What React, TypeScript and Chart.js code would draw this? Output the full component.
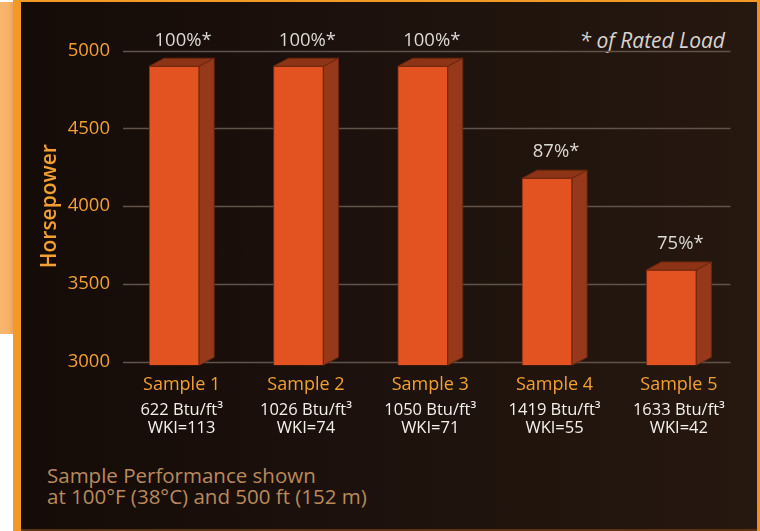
import React, { useEffect, useRef } from "react";
import { Chart, registerables } from "chart.js";

Chart.register(...registerables);

const categories = ["Sample 1", "Sample 2", "Sample 3", "Sample 4", "Sample 5"];
const horsepower = [4900, 4900, 4900, 4180, 3590];
const ratedLoad = ["100%*", "100%*", "100%*", "87%*", "75%*"];
const heatingValues = ["622 Btu/ft³", "1026 Btu/ft³", "1050 Btu/ft³", "1419 Btu/ft³", "1633 Btu/ft³"];
const wkiValues = ["WKI=113", "WKI=74", "WKI=71", "WKI=55", "WKI=42"];
const yMin = 3000;
const yMax = 5000;
const yStep = 500;

const FONT = "'Open Sans', 'DejaVu Sans', sans-serif";
const ORANGE = "#f2a032";

const DX = 15;
const DY = -8;

const gridPlugin = {
  id: "customGrid",
  beforeDatasetsDraw(chart: any) {
    const { ctx, chartArea, scales } = chart;
    const y = scales.y;
    ctx.save();
    ctx.strokeStyle = "#62534a";
    ctx.lineWidth = 1.3;
    y.ticks.forEach((t: any) => {
      const py = Math.round(y.getPixelForValue(t.value)) + 0.5;
      ctx.beginPath();
      ctx.moveTo(chartArea.left + 11, py);
      ctx.lineTo(chartArea.right - 3, py);
      ctx.stroke();
    });
    ctx.restore();
  },
};

const barsPlugin = {
  id: "bars3d",
  afterDatasetsDraw(chart: any) {
    const { ctx, chartArea, scales } = chart;
    const meta = chart.getDatasetMeta(0);
    ctx.save();
    meta.data.forEach((el: any, i: number) => {
      const left = el.x - el.width / 2;
      const right = el.x + el.width / 2;
      const top = el.y;
      const base = el.base;
      ctx.beginPath();
      ctx.moveTo(right, top);
      ctx.lineTo(right + DX, top + DY);
      ctx.lineTo(right + DX, base + DY);
      ctx.lineTo(right, base);
      ctx.closePath();
      ctx.fillStyle = "#96391b";
      ctx.fill();
      ctx.strokeStyle = "#6e2810";
      ctx.lineWidth = 1;
      ctx.stroke();
      ctx.beginPath();
      ctx.moveTo(left, top);
      ctx.lineTo(left + DX, top + DY);
      ctx.lineTo(right + DX, top + DY);
      ctx.lineTo(right, top);
      ctx.closePath();
      ctx.fillStyle = "#8c3415";
      ctx.fill();
      ctx.stroke();

      ctx.fillStyle = "#dcd8d4";
      ctx.font = `500 18.5px ${FONT}`;
      ctx.textAlign = "center";
      ctx.textBaseline = "middle";
      ctx.fillText(ratedLoad[i], el.x + 9, top - 26);
    });

    const x = scales.x;
    const b = chartArea.bottom;
    categories.forEach((c, i) => {
      const px = x.getPixelForValue(i) + 7.5;
      ctx.textAlign = "center";
      ctx.textBaseline = "middle";
      ctx.fillStyle = ORANGE;
      ctx.font = `500 18px ${FONT}`;
      ctx.fillText(c, px, b + 23.5);
      ctx.fillStyle = "#f4f0ec";
      ctx.font = `500 16.5px ${FONT}`;
      ctx.fillText(heatingValues[i], px, b + 49);
      ctx.fillText(wkiValues[i], px, b + 67);
    });
    ctx.restore();
  },
};

export default function App() {
  const ref = useRef<HTMLCanvasElement | null>(null);

  useEffect(() => {
    if (!ref.current) return;
    const chart = new Chart(ref.current, {
      type: "bar",
      data: {
        labels: categories,
        datasets: [
          {
            data: horsepower,
            backgroundColor: "#e35322",
            borderColor: "#7e2b12",
            borderWidth: 1,
            barThickness: 50,
            base: yMin - 23,
            clip: false,
          } as any,
        ],
      },
      options: {
        animation: false,
        responsive: false,
        devicePixelRatio: 1,
        layout: { padding: { left: 30, right: 26.5, top: 50.7, bottom: 169.3 } },
        plugins: { legend: { display: false }, tooltip: { enabled: false } },
        scales: {
          x: { display: false, offset: true },
          y: {
            min: yMin,
            max: yMax,
            grid: { display: false },
            border: { display: false },
            ticks: {
              stepSize: yStep,
              color: ORANGE,
              padding: -6,
              font: { family: FONT, size: 18.5, weight: "500" as any },
              callback: (v: any) => String(v),
            },
            title: {
              display: true,
              text: "Horsepower",
              color: ORANGE,
              font: { family: FONT, size: 21, weight: "600" as any, lineHeight: 1.2 },
              padding: { top: 7, bottom: 0 },
            },
            afterFit: (scale: any) => {
              scale.width = 82;
            },
          },
        },
      },
      plugins: [gridPlugin, barsPlugin],
    });
    return () => chart.destroy();
  }, []);

  return (
    <div style={{ position: "absolute", left: 0, top: 0, width: 760, height: 531, background: "#ffffff", overflow: "hidden" }}>
      <div style={{ position: "absolute", left: 0, top: 2, width: 13, height: 332, background: "linear-gradient(to right, #f9b66c 0%, #f6b268 70%, #e9a25f 100%)" }} />
      <div style={{ position: "absolute", left: 13, top: 0, width: 8, height: 531, background: "#f39a26" }} />
      <div style={{ position: "absolute", left: 13, top: 0, width: 747, height: 2, background: "#f39a26" }} />
      <div style={{ position: "absolute", left: 757, top: 0, width: 3, height: 531, background: "#f0901c" }} />
      <div
        style={{
          position: "absolute",
          left: 21,
          top: 2,
          width: 736,
          height: 527,
          background: "linear-gradient(to right, #150b07 0%, #1c110c 45%, #26180f 100%)",
        }}
      />
      <div style={{ position: "absolute", left: 21, top: 529, width: 736, height: 2, background: "#5a3412" }} />
      <div
        style={{
          position: "absolute",
          right: 35,
          top: 26,
          fontFamily: FONT,
          fontStyle: "italic",
          fontSize: 21,
          lineHeight: "28px",
          color: "#d8d3ce",
          whiteSpace: "nowrap",
        }}
      >
        * of Rated Load
      </div>
      <div
        style={{
          position: "absolute",
          left: 47,
          top: 465,
          fontFamily: FONT,
          fontSize: 20.5,
          lineHeight: "21px",
          color: "#b98a5b",
          whiteSpace: "nowrap",
        }}
      >
        Sample Performance shown
        <br />
        at 100°F (38°C) and 500 ft (152 m)
      </div>
      <canvas ref={ref} width={760} height={531} style={{ position: "absolute", left: 0, top: 0, width: 760, height: 531 }} />
    </div>
  );
}
